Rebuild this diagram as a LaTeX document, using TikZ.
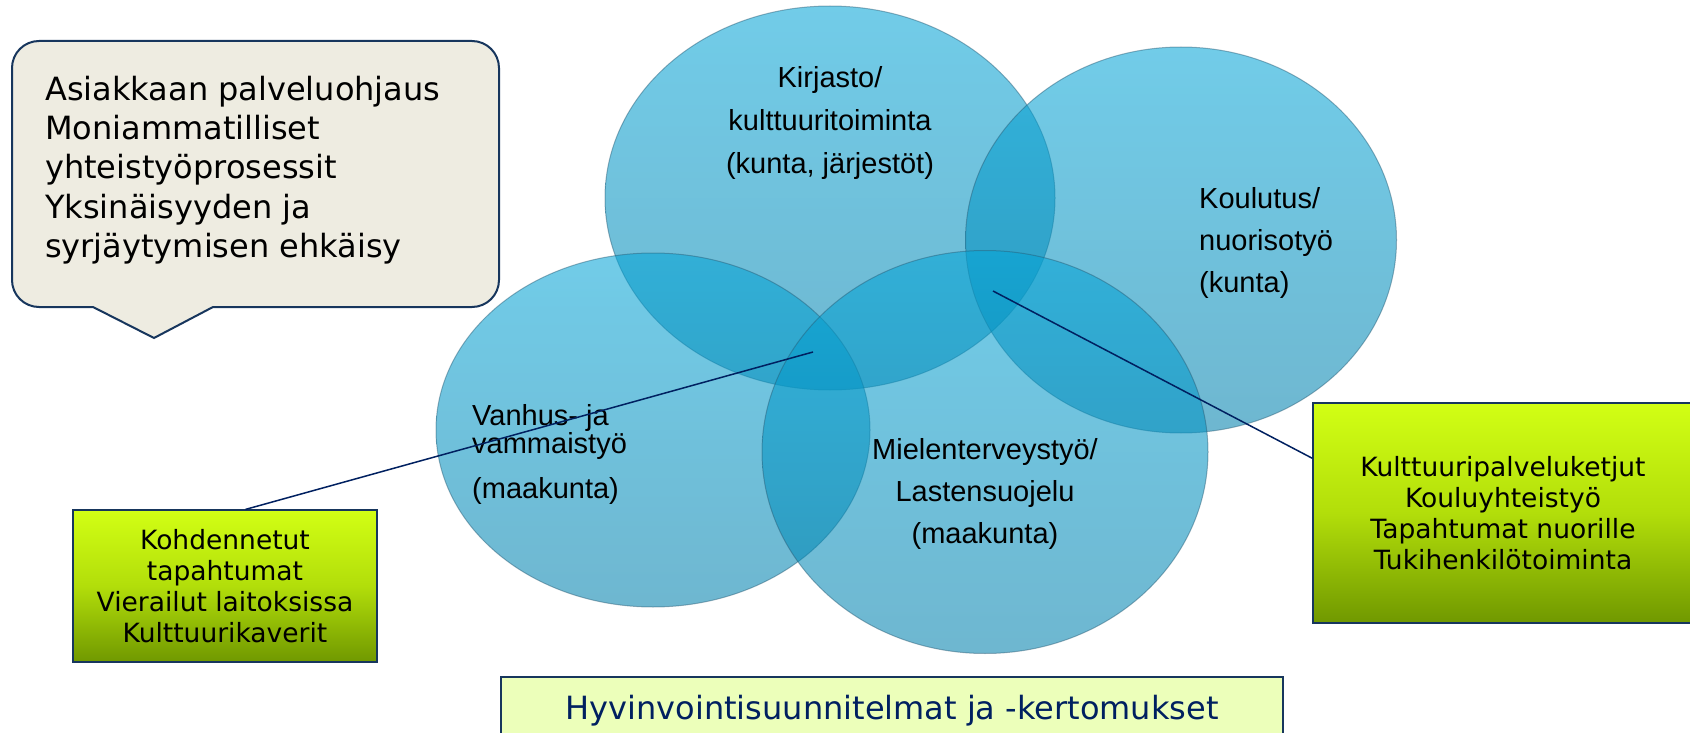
\documentclass[tikz,border=0pt]{standalone}
\usepackage{fontspec}
\setmainfont{DejaVu Sans}
\newfontfamily\arialfont{Liberation Sans}
\usetikzlibrary{shapes.geometric}

\definecolor{navy}{RGB}{23,54,93}
\definecolor{navytext}{RGB}{0,32,96}
\definecolor{bubbletop}{RGB}{5,165,215}
\definecolor{bubblebottom}{RGB}{0,128,172}
\definecolor{bubbleedge}{RGB}{40,90,115}
\definecolor{noteback}{RGB}{238,236,225}
\definecolor{limetop}{RGB}{210,255,20}
\definecolor{limemid}{RGB}{178,222,10}
\definecolor{limebottom}{RGB}{112,152,0}
\definecolor{paleyellow}{RGB}{236,255,186}

\begin{document}
\begin{tikzpicture}[x=1pt, y=-1pt,
    bubble/.style={ellipse, top color=bubbletop, bottom color=bubblebottom, fill opacity=0.57, draw=bubbleedge, draw opacity=0.45, line width=1pt, inner sep=0pt},
    venntext/.style={font=\arialfont\fontsize{29}{43}\selectfont, text=black, inner sep=0pt},
    greenbox/.style={rectangle, draw=navy, line width=1.2pt, top color=limetop, bottom color=limebottom, middle color=limemid, font=\fontsize{26.5}{31}\selectfont, align=center, inner sep=0pt},
    link/.style={draw=navytext, line width=1.5pt}]
    \useasboundingbox (0,0) rectangle (1690,733);

    % Callout
    \draw[draw=navy, line width=2pt, fill=noteback, rounded corners=27pt] (250,41) -- (499,41) -- (499,307) [sharp corners] -- (213,307) -- (154,338) -- (93,307) [rounded corners=27pt] -- (12,307) -- (12,41) -- cycle;
    \node[anchor=west, align=left, inner sep=0pt, font=\fontsize{32}{39.3}\selectfont] (ohjaus) at (45,170) {Asiakkaan palveluohjaus\\Moniammatilliset\\yhteistyöprosessit\\Yksinäisyyden ja\\syrjäytymisen ehkäisy};

    % Venn ellipses
    \node[bubble, minimum width=450pt, minimum height=384pt] (kirjasto) at (830,198) {};
    \node[bubble, minimum width=431pt, minimum height=386pt] (koulutus) at (1181,240) {};
    \node[bubble, minimum width=434pt, minimum height=354pt] (vanhus) at (653,430) {};
    \node[bubble, minimum width=446pt, minimum height=403pt] (mielenterveys) at (985,452) {};

    \node[venntext, align=center] (kirjastoteksti) at (830,123) {Kirjasto/\\kulttuuritoiminta\\(kunta, järjestöt)};
    \node[venntext, align=left, anchor=west, font=\arialfont\fontsize{29}{42}\selectfont] (koulutusteksti) at (1199,243) {Koulutus/\\nuorisotyö\\(kunta)};
    \node[venntext, align=left, anchor=west] (vanhusteksti) at (472,454) {Vanhus- ja\\[-15pt]vammaistyö\\[2pt](maakunta)};
    \node[venntext, align=center, font=\arialfont\fontsize{29}{42}\selectfont] (mielenterveysteksti) at (985,494) {Mielenterveystyö/\\Lastensuojelu\\(maakunta)};

    % Activities
    \node[greenbox, minimum width=304pt, minimum height=152pt] (tapahtumat) at (225,586) {Kohdennetut\\tapahtumat\\Vierailut laitoksissa\\Kulttuurikaverit};
    \node[greenbox, minimum width=380pt, minimum height=220pt] (ketjut) at (1503,513) {Kulttuuripalveluketjut\\Kouluyhteistyö\\Tapahtumat nuorille\\Tukihenkilötoiminta};

    \coordinate (risteys1) at (813,352);
    \coordinate (risteys2) at (993,291);
    \draw[link] (risteys1) -- (tapahtumat.75);
    \draw[link] (ketjut.164) -- (risteys2);

    % Plans
    \node[rectangle, draw=navy, line width=1.2pt, fill=paleyellow, minimum width=782pt, minimum height=68pt, text=navytext, font=\fontsize{32}{37}\selectfont] (hyvinvointi) at (892,711) {Hyvinvointisuunnitelmat ja -kertomukset};
\end{tikzpicture}
\end{document}
